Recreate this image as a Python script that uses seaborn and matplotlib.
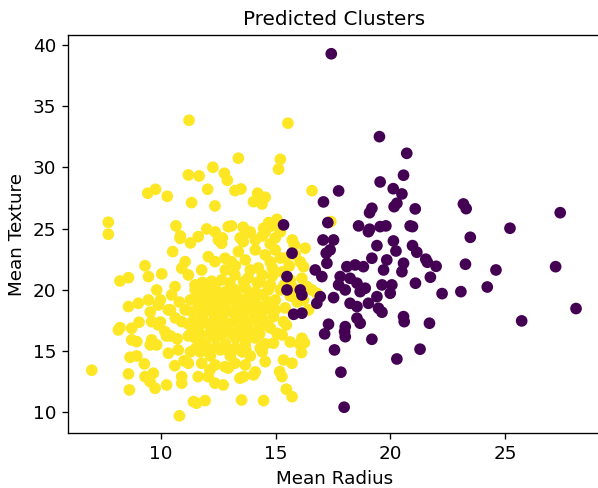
import matplotlib
matplotlib.use("Agg")
import matplotlib.pyplot as plt
import seaborn as sns
import pandas as pd

# Cluster 0 (dark purple): mean radius / mean texture
radius_c0 = [17.42, 19.52, 20.71, 19.55, 20.57, 20.12, 20.50, 17.74, 17.08, 19.19,
             19.09, 20.28, 20.16, 21.08, 18.61, 19.09, 19.55, 19.80, 20.86, 17.27,
             15.34, 23.18, 23.30, 27.40, 20.96, 25.21, 23.48, 20.96, 21.15, 21.54,
             21.61, 21.99, 23.27, 24.60, 27.20, 21.09, 21.74, 22.25, 23.07, 24.22,
             28.09, 25.72, 21.70, 19.04, 17.06, 17.52, 20.13, 19.41, 20.24, 17.37,
             17.20, 15.71, 19.19, 19.84, 20.57, 17.23, 18.10, 18.46, 18.82, 16.72,
             19.70, 20.50, 15.49, 17.01, 17.81, 18.24, 18.54, 17.74, 18.90, 19.63,
             20.06, 15.49, 16.07, 18.03, 18.68, 19.41, 19.99, 16.94, 17.52, 16.14,
             18.24, 18.54, 19.04, 19.48, 19.63, 16.79, 15.78, 16.14, 17.30, 18.03,
             18.54, 18.68, 20.57, 20.60, 17.13, 18.03, 19.19, 17.56, 20.28, 21.29,
             17.84, 17.98, 18.00]
texture_c0 = [39.28, 32.51, 31.15, 28.81, 29.36, 28.26, 27.83, 28.08, 27.18, 26.66,
              26.30, 27.07, 26.79, 26.61, 25.22, 24.95, 25.16, 25.22, 25.22, 25.49,
              25.30, 27.01, 26.63, 26.30, 25.16, 25.03, 24.29, 23.61, 23.07, 22.50,
              22.25, 21.92, 22.09, 21.62, 21.89, 20.54, 21.03, 19.69, 19.85, 20.23,
              18.47, 17.46, 17.27, 24.75, 24.07, 24.07, 23.99, 23.61, 23.17, 23.26,
              22.99, 22.99, 22.58, 22.44, 22.17, 22.17, 21.89, 22.03, 21.89, 21.62,
              21.62, 21.48, 21.08, 21.08, 21.08, 20.94, 20.54, 20.40, 20.13, 20.40,
              20.40, 19.99, 19.99, 19.99, 19.85, 19.44, 19.72, 19.44, 19.36, 19.58,
              18.90, 18.63, 18.90, 18.49, 18.17, 18.90, 18.00, 18.09, 17.19, 16.99,
              17.68, 17.27, 17.81, 17.40, 16.40, 16.17, 15.96, 15.09, 14.35, 15.15,
              13.27, 10.41, 16.58]

# Cluster 1 (yellow)
radius_c1 = [11.22, 13.37, 12.26, 11.19, 11.66, 12.76, 12.89, 12.03, 9.76, 9.42,
             10.27, 11.33, 12.35, 13.22, 13.48, 7.70, 10.65, 11.99, 13.07, 13.58,
             15.53, 15.20, 15.12, 16.58, 14.21, 14.54, 14.03, 14.40, 17.40, 14.69,
             15.05, 14.83, 14.47, 7.70, 10.83, 11.62, 12.50, 12.64, 10.51, 9.30,
             9.45, 10.03, 8.58, 8.21, 9.81, 8.58, 9.01, 8.21, 8.72, 9.04,
             9.59, 9.88, 9.45, 10.61, 10.46, 11.05, 10.90, 11.19, 11.77, 12.06,
             12.35, 12.79, 13.07, 13.37, 13.58, 12.93, 11.48, 11.92, 12.35, 12.64,
             13.22, 11.48, 12.06, 12.79, 13.37, 11.05, 11.77, 12.50, 13.07, 13.51,
             10.32, 9.88, 10.90, 11.48, 12.20, 12.79, 13.44, 10.17, 6.98, 8.58,
             8.62, 9.30, 9.66, 9.52, 9.74, 10.24, 10.90, 11.41, 11.55, 11.92,
             10.80, 13.51, 8.72, 8.94, 8.65, 8.94, 9.27, 9.59, 9.81, 10.24,
             10.32, 8.14, 10.90, 11.62, 12.06, 12.35, 12.71, 12.79, 13.22, 13.44,
             11.19, 11.77, 12.13, 16.14, 16.25, 16.04, 16.12, 15.34, 15.71, 15.17,
             15.27, 15.46, 15.71, 14.47, 14.90, 14.32, 14.54, 14.03, 13.60, 13.89,
             15.05, 16.28, 15.85, 16.21, 16.14, 15.71, 16.36, 16.58, 16.79, 15.78,
             16.21, 16.43, 14.25, 15.34, 14.90,
             11.49, 11.93, 12.36, 12.80, 13.24, 13.67, 14.11, 14.41,
             11.28, 11.71, 12.15, 12.58, 13.02, 13.45, 13.89, 14.24, 14.67,
             11.36, 11.80, 12.23, 12.67, 13.11, 13.54, 13.98, 14.41, 14.85,
             11.19, 11.62, 12.06, 12.50, 12.93, 13.37, 13.80, 14.24, 14.67,
             11.49, 11.93, 12.36, 12.80, 13.24, 13.67, 14.11, 14.54,
             11.71, 12.15, 12.58, 13.02, 13.45, 13.89, 12.36, 12.93, 13.67, 14.11,
             10.84, 11.28, 12.36, 12.67, 13.45, 13.89, 14.41, 14.76, 15.20, 15.72,
             14.11, 14.54, 14.98, 15.41, 13.67, 13.24, 12.80, 13.89, 14.41, 14.85,
             15.28, 15.63, 14.76, 15.20, 15.63, 14.98, 15.41, 9.97, 10.41, 10.62,
             9.53, 9.97, 10.41, 9.53,
             13.67, 14.11, 14.54, 14.98, 14.24, 14.76, 15.20, 13.80, 14.32, 14.85,
             15.37, 14.15, 14.67, 13.89, 14.98, 15.46, 13.67, 14.76, 15.28, 15.63,
             15.94, 15.59, 15.81, 16.07,
             11.19, 11.71, 12.23, 10.75, 11.28, 13.54, 14.41,
             11.70, 12.10, 12.50, 12.90, 13.30, 13.80, 14.20,
             11.60, 12.00, 12.40, 12.85, 13.30, 13.70, 14.10, 14.50,
             11.40, 11.90, 12.30, 12.75, 13.20, 13.60, 14.00, 14.45,
             11.30, 11.75, 12.15, 12.60, 13.00, 13.45, 13.85, 14.30,
             11.50, 12.00, 12.40, 12.85, 13.25, 13.70,
             11.80, 12.20, 13.00, 13.60, 14.20,
             10.80, 10.70, 11.00, 10.60]
texture_c1 = [33.85, 30.75, 30.01, 29.38, 29.30, 29.52, 28.95, 28.21, 28.21, 27.89,
              27.64, 27.12, 26.85, 28.10, 28.24, 25.52, 25.22, 24.97, 25.22, 25.11,
              33.61, 30.66, 29.85, 28.10, 27.89, 27.56, 27.20, 27.01, 25.57, 25.49,
              25.76, 25.22, 25.03, 24.54, 24.21, 24.34, 24.07, 23.80, 23.12, 21.97,
              21.08, 21.30, 20.99, 20.72, 19.99, 18.63, 18.90, 16.91, 16.86, 17.35,
              17.40, 17.13, 19.17, 20.26, 19.58, 22.30, 21.76, 21.21, 21.62, 22.71,
              22.30, 22.58, 22.30, 23.12, 23.93, 25.16, 20.40, 20.40, 19.85, 20.81,
              21.21, 19.17, 19.03, 19.03, 19.31, 18.36, 18.22, 17.95, 18.22, 17.95,
              18.36, 18.76, 17.40, 17.13, 16.99, 17.13, 16.99, 16.58, 13.43, 13.13,
              11.82, 12.91, 13.19, 12.50, 11.96, 12.23, 12.37, 10.87, 10.74, 10.95,
              9.71, 11.00, 15.91, 15.77, 14.49, 14.60, 13.95, 15.91, 15.50, 16.23,
              14.82, 16.72, 12.91, 12.91, 12.91, 12.37, 12.23, 13.72, 14.00, 12.78,
              14.00, 14.00, 13.46, 16.04, 15.68, 15.58, 14.87, 14.27, 14.00, 13.32,
              12.91, 11.88, 11.27, 10.95, 15.64, 15.23, 14.13, 13.05, 12.91, 16.17,
              16.45, 23.40, 22.85, 21.89, 20.94, 20.26, 20.26, 19.99, 19.72, 19.44,
              19.17, 18.36, 18.22, 17.40, 17.81,
              19.99, 19.83, 20.15, 19.83, 19.99, 20.15, 19.83, 19.58,
              19.17, 18.76, 19.17, 18.68, 19.17, 18.76, 19.17, 18.68, 19.01,
              18.19, 17.70, 18.19, 17.70, 18.19, 17.70, 18.19, 17.70, 18.36,
              17.21, 16.72, 17.21, 16.72, 17.21, 16.72, 17.21, 16.72, 17.05,
              16.07, 15.58, 16.07, 15.58, 16.07, 15.58, 16.07, 15.58,
              14.93, 14.60, 15.09, 14.60, 15.09, 14.60, 13.86, 13.61, 13.86, 13.29,
              24.40, 23.83, 24.73, 24.24, 24.24, 24.73, 24.40, 23.75, 24.73, 24.07,
              23.26, 22.85, 23.26, 22.60, 22.44, 21.95, 21.62, 21.62, 21.21, 21.79,
              21.46, 20.81, 20.40, 19.99, 19.50, 19.17, 18.52, 19.17, 18.36, 17.70,
              18.19, 17.37, 16.23, 15.50,
              24.56, 24.07, 24.73, 24.24, 21.79, 22.28, 22.60, 20.97, 20.64, 21.13,
              20.40, 19.50, 19.99, 18.52, 18.36, 17.13, 17.13, 16.89, 16.31, 15.74,
              19.01, 21.95, 23.67, 22.28,
              16.23, 15.91, 16.23, 15.09, 14.93, 14.93, 14.93,
              19.45, 19.60, 19.40, 19.55, 19.50, 19.40, 19.60,
              18.45, 18.30, 18.50, 18.35, 18.45, 18.30, 18.50, 18.40,
              17.45, 17.30, 17.50, 17.40, 17.45, 17.30, 17.50, 17.35,
              16.40, 16.30, 16.50, 16.35, 16.45, 16.30, 16.50, 16.40,
              15.20, 15.10, 15.30, 15.15, 15.25, 15.10,
              20.60, 20.70, 20.55, 20.65, 20.60,
              19.00, 16.00, 14.20, 13.80]

cluster_colors = {1: "#fde725", 0: "#440154"}

df = pd.concat([
    pd.DataFrame({"radius": radius_c1, "texture": texture_c1, "cluster": 1}),
    pd.DataFrame({"radius": radius_c0, "texture": texture_c0, "cluster": 0}),
], ignore_index=True)

fig = plt.figure(figsize=(598 / 120, 488 / 120), dpi=120)
ax = fig.add_axes([0.1132, 0.1121, 0.8915, 0.8156])

sns.scatterplot(data=df, x="radius", y="texture", hue="cluster",
                palette=cluster_colors, s=36, linewidth=1.0, edgecolor="face",
                legend=False, ax=ax)

ax.set_xlim(5.93, 29.17)
ax.set_ylim(8.28, 40.79)
ax.set_xticks([10, 15, 20, 25])
ax.set_yticks([10, 15, 20, 25, 30, 35, 40])
ax.tick_params(labelsize=11)
ax.set_title("Predicted Clusters", fontsize=12)
ax.set_xlabel("Mean Radius", fontsize=11)
ax.set_ylabel("Mean Texture", fontsize=11)

fig.savefig("out.png", dpi=120)
